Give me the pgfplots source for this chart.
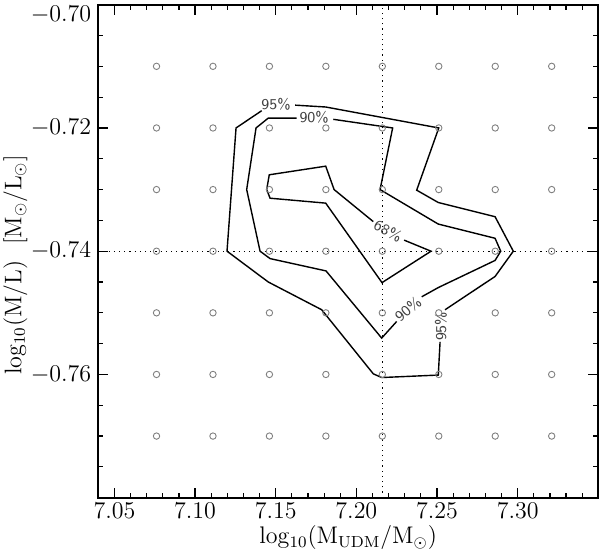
\documentclass[border=0pt]{standalone}
\usepackage{pgfplots}
\pgfplotsset{compat=1.18}
\begin{document}
\begin{tikzpicture}
\begin{axis}[
    at={(0,0)}, anchor=south west,
    scale only axis, width=250pt, height=246.5pt,
    xmin=7.04, xmax=7.35, ymin=-0.78, ymax=-0.70,
    xtick={7.05,7.10,7.15,7.20,7.25,7.30},
    minor xtick={7.06,7.07,7.08,7.09,7.11,7.12,7.13,7.14,7.16,7.17,7.18,7.19,7.21,7.22,7.23,7.24,7.26,7.27,7.28,7.29,7.31,7.32,7.33,7.34},
    ytick={-0.76,-0.74,-0.72},
    extra y ticks={-0.70},
    extra y tick style={yticklabel style={/tikz/yshift=-5pt}},
    minor ytick={-0.775,-0.77,-0.765,-0.755,-0.75,-0.745,-0.735,-0.73,-0.725,-0.715,-0.71,-0.705},
    tick align=inside, tick pos=both,
    major tick length=5pt, minor tick length=2.5pt,
    axis line style={line width=0.8pt},
    every tick/.style={black, line width=0.6pt},
    xticklabel style={font=\large, yshift=1pt, /pgf/number format/.cd, fixed, fixed zerofill, precision=2},
    yticklabel style={font=\large, /pgf/number format/.cd, fixed, fixed zerofill, precision=2},
    xlabel={$\mathrm{log_{10}(M_{UDM}/M_\odot)}$},
    ylabel={$\mathrm{log_{10}(M/L)\ \ [M_\odot/L_\odot]}$},
    xlabel style={font=\large, at={(axis description cs:0.5,-0.093)}, anchor=base},
    ylabel style={font=\large, at={(axis description cs:-0.166,0.472)}, anchor=center},
    clip=false,
]
% grid of models
\addplot[only marks, mark=o, mark size=1.6pt, black!50, mark options={line width=0.45pt}] coordinates {
(7.0761,-0.71) (7.1111,-0.71) (7.1461,-0.71) (7.1811,-0.71) (7.2161,-0.71) (7.2511,-0.71) (7.2861,-0.71) (7.3211,-0.71)
(7.0761,-0.72) (7.1111,-0.72) (7.1461,-0.72) (7.1811,-0.72) (7.2161,-0.72) (7.2511,-0.72) (7.2861,-0.72) (7.3211,-0.72)
(7.0761,-0.73) (7.1111,-0.73) (7.1461,-0.73) (7.1811,-0.73) (7.2161,-0.73) (7.2511,-0.73) (7.2861,-0.73) (7.3211,-0.73)
(7.0761,-0.74) (7.1111,-0.74) (7.1461,-0.74) (7.1811,-0.74) (7.2161,-0.74) (7.2511,-0.74) (7.2861,-0.74) (7.3211,-0.74)
(7.0761,-0.75) (7.1111,-0.75) (7.1461,-0.75) (7.1811,-0.75) (7.2161,-0.75) (7.2511,-0.75) (7.2861,-0.75) (7.3211,-0.75)
(7.0761,-0.76) (7.1111,-0.76) (7.1461,-0.76) (7.1811,-0.76) (7.2161,-0.76) (7.2511,-0.76) (7.2861,-0.76) (7.3211,-0.76)
(7.0761,-0.77) (7.1111,-0.77) (7.1461,-0.77) (7.1811,-0.77) (7.2161,-0.77) (7.2511,-0.77) (7.2861,-0.77) (7.3211,-0.77)
};
% best fit cross
\addplot[black, dotted, line width=0.6pt] coordinates {(7.2161,-0.78) (7.2161,-0.70)};
\addplot[black, dotted, line width=0.6pt] coordinates {(7.04,-0.74) (7.35,-0.74)};
% 95%
\addplot[black, line width=0.7pt] coordinates {
(7.1620,-0.7163) (7.1810,-0.7166) (7.2511,-0.7200) (7.2374,-0.7301) (7.2508,-0.7321)
(7.2860,-0.7344) (7.2973,-0.7400) (7.2860,-0.7441) (7.2550,-0.7495)
};
\addplot[black, line width=0.7pt] coordinates {
(7.2519,-0.7547) (7.2508,-0.7601) (7.2157,-0.7605) (7.2105,-0.7599) (7.1785,-0.7495)
(7.1454,-0.7450) (7.1198,-0.7400) (7.1254,-0.7200) (7.1413,-0.7172)
};
% 90%
\addplot[black, line width=0.7pt] coordinates {
(7.1857,-0.7186) (7.2225,-0.7200) (7.2147,-0.7300) (7.2508,-0.7356) (7.2860,-0.7379)
(7.2895,-0.7400) (7.2860,-0.7415) (7.2508,-0.7459) (7.2405,-0.7474)
};
\addplot[black, line width=0.7pt] coordinates {
(7.2250,-0.7514) (7.2157,-0.7541) (7.1812,-0.7432) (7.1465,-0.7412) (7.1403,-0.7400)
(7.1320,-0.7300) (7.1378,-0.7200) (7.1454,-0.7184) (7.1630,-0.7184)
};
% 68%
\addplot[black, line width=0.7pt] coordinates {
(7.2296,-0.7382) (7.2463,-0.7400) (7.2159,-0.7451) (7.1810,-0.7322) (7.1465,-0.7314)
(7.1444,-0.7300) (7.1460,-0.7276) (7.1810,-0.7262) (7.1862,-0.7300) (7.2105,-0.7352)
};
\begin{scope}[every node/.style={font=\sffamily\fontsize{7.5}{8}\selectfont, text=black!75, inner sep=0pt}]
\node at (axis cs:7.1502,-0.7161) {95\%};
\node at (axis cs:7.1738,-0.7183) {90\%};
\node[rotate=-27] at (axis cs:7.2196,-0.7367) {68\%};
\node[rotate=40] at (axis cs:7.2320,-0.7494) {90\%};
\node[rotate=90] at (axis cs:7.2525,-0.7522) {95\%};
\end{scope}
\end{axis}
\pgfresetboundingbox
\path (-49.15pt,-27.15pt) rectangle (250.85pt,248.85pt);
\end{tikzpicture}
\end{document}
